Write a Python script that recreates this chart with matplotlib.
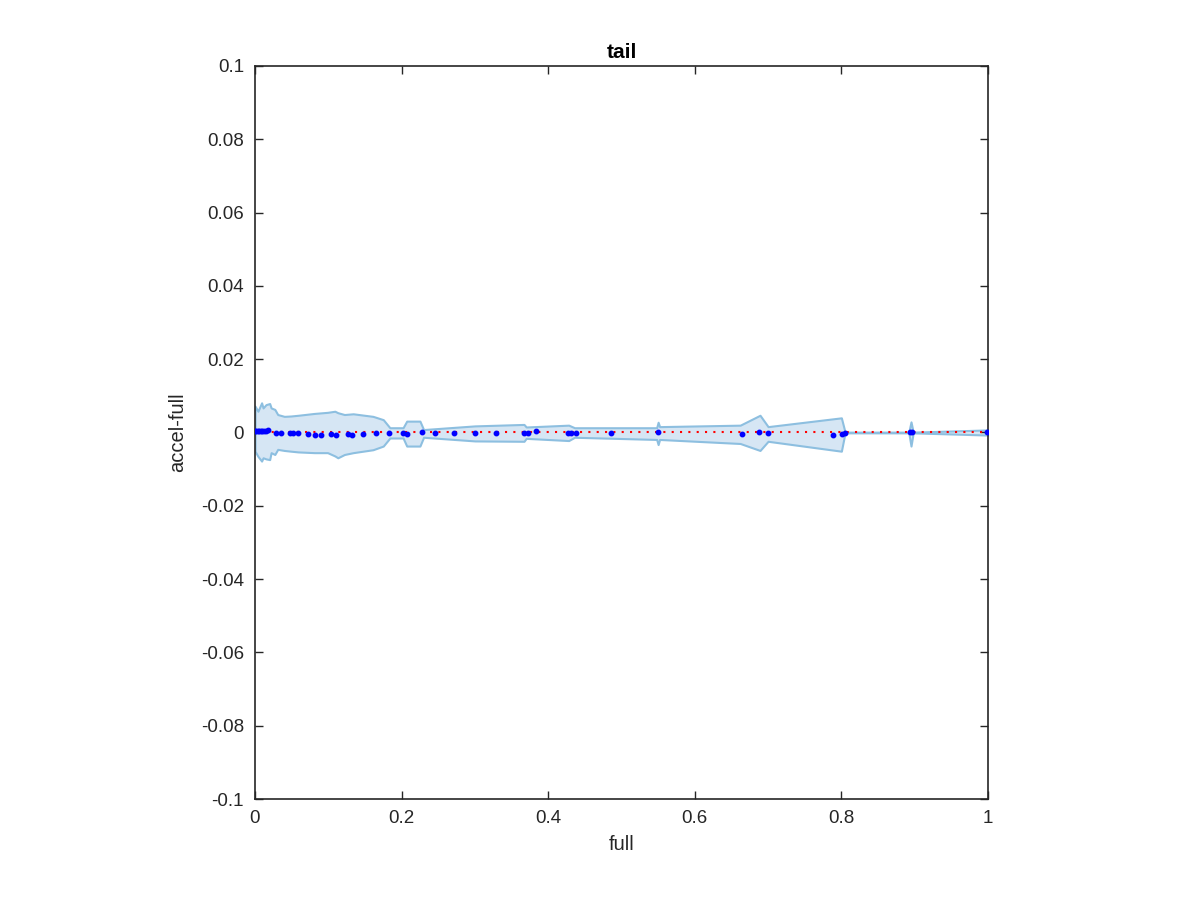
import matplotlib
matplotlib.use("Agg")
import matplotlib.pyplot as plt

plt.rcParams["font.family"] = ["Liberation Sans", "DejaVu Sans"]

# blue points (full, accel-full)
pt_x = [0.0, 0.002, 0.004, 0.006, 0.008, 0.010, 0.012, 0.015, 0.018,
        0.029, 0.035, 0.048, 0.052, 0.059, 0.072, 0.082, 0.090, 0.104, 0.110,
        0.127, 0.132, 0.147, 0.165, 0.183, 0.202, 0.207, 0.228, 0.246, 0.271,
        0.300, 0.329, 0.367, 0.372, 0.383, 0.427, 0.431, 0.438, 0.486, 0.550,
        0.664, 0.688, 0.700, 0.789, 0.801, 0.805, 0.894, 0.896, 0.999]
pt_y = [0.0004, 0.0003, 0.0004, 0.0003, 0.0004, 0.0003, 0.0004, 0.0005, 0.0008,
        -0.0001, -0.0001, -0.0001, -0.0002, -0.0001, -0.0005, -0.0007, -0.0007, -0.0004, -0.0006,
        -0.0004, -0.0006, -0.0003, -0.0002, -0.0001, -0.0001, -0.0004, 0.0000, -0.0001, -0.0002,
        -0.0001, -0.0001, -0.0001, -0.0001, 0.0003, -0.0002, -0.0002, -0.0001, -0.0001, 0.0000,
        -0.0004, 0.0000, -0.0001, -0.0006, -0.0004, -0.0001, 0.0000, 0.0000, 0.0000]

# shaded band envelope
band_x = [0.0, 0.004, 0.009, 0.011, 0.015, 0.020, 0.022, 0.027, 0.031, 0.040,
          0.049, 0.059, 0.081, 0.099, 0.109, 0.113, 0.122, 0.134, 0.161, 0.175,
          0.184, 0.202, 0.207, 0.225, 0.230, 0.300, 0.367, 0.370, 0.428, 0.436,
          0.548, 0.550, 0.552, 0.662, 0.689, 0.700, 0.800, 0.805, 0.892, 0.895,
          0.898, 1.0]
band_hi = [0.0072, 0.0058, 0.0081, 0.0067, 0.0076, 0.0079, 0.0067, 0.0063, 0.0049, 0.0044,
           0.0045, 0.0047, 0.0052, 0.0055, 0.0058, 0.0054, 0.0049, 0.0051, 0.0044, 0.0035,
           0.0013, 0.0013, 0.0031, 0.0031, 0.0008, 0.0018, 0.0022, 0.0015, 0.0020, 0.0013,
           0.0013, 0.0028, 0.0016, 0.0020, 0.0047, 0.0016, 0.0040, 0.0001, 0.0001, 0.0029,
           0.0001, 0.0007]
band_lo = [-0.0051, -0.0065, -0.0078, -0.0069, -0.0072, -0.0074, -0.0055, -0.0060, -0.0046, -0.0049,
           -0.0051, -0.0053, -0.0055, -0.0055, -0.0064, -0.0069, -0.0060, -0.0055, -0.0047, -0.0037,
           -0.0015, -0.0015, -0.0037, -0.0037, -0.0013, -0.0023, -0.0024, -0.0016, -0.0022, -0.0013,
           -0.0019, -0.0033, -0.0019, -0.0030, -0.0049, -0.0024, -0.0051, -0.0001, -0.0001, -0.0037,
           -0.0001, -0.0007]

fig = plt.figure(figsize=(12, 9), dpi=100)
ax = fig.add_axes([0.2125, 0.1122, 0.6108, 0.8145])

ax.fill_between(band_x, band_lo, band_hi, facecolor="#d6e6f4",
                edgecolor="#8dbfe0", linewidth=1.5, zorder=1)
ax.plot([0, 1], [0, 0], linestyle=(0, (1, 3)), color="red", linewidth=1.5, zorder=2)
ax.plot(pt_x, pt_y, "o", color="blue", markersize=3.2, zorder=3)

ax.set_xlim(0, 1)
ax.set_ylim(-0.1, 0.1)
ax.set_xticks([0, 0.2, 0.4, 0.6, 0.8, 1])
ax.set_xticklabels(["0", "0.2", "0.4", "0.6", "0.8", "1"])
yt = [-0.1, -0.08, -0.06, -0.04, -0.02, 0, 0.02, 0.04, 0.06, 0.08, 0.1]
ax.set_yticks(yt)
ax.set_yticklabels(["-0.1", "-0.08", "-0.06", "-0.04", "-0.02", "0",
                    "0.02", "0.04", "0.06", "0.08", "0.1"])
ax.tick_params(direction="in", top=True, right=True, length=6, width=1,
               labelsize=13.5, colors="#262626", pad=8)
for s in ax.spines.values():
    s.set_linewidth(1.2)
    s.set_color("#262626")

ax.set_xlabel("full", fontsize=14.5, color="#262626", labelpad=6)
ax.set_ylabel("accel-full", fontsize=14.5, color="#262626", labelpad=10)
ax.set_title("tail", fontsize=15, fontweight="bold", pad=6)

fig.savefig("out.png", dpi=100)
